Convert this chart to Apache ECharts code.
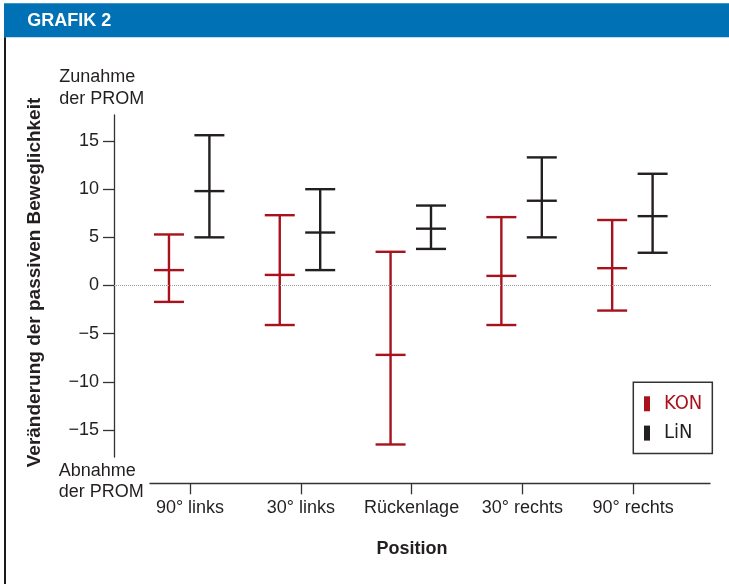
<!DOCTYPE html>
<html>
<head>
<meta charset="utf-8">
<title>Grafik 2</title>
<script src="https://cdn.jsdelivr.net/npm/echarts@6/dist/echarts.min.js"></script>
<style>
  html, body {
    margin: 0;
    padding: 0;
    background: #fff;
  }
  #chart {
    width: 729px;
    height: 584px;
  }
</style>
</head>
<body>
<div id="chart"></div>
<script>
// Kategorien (Position)
var categories = ['90° links', '30° links', 'Rückenlage', '30° rechts', '90° rechts']
// KON: Mittelwert, untere und obere Grenze
var konMean = [1.6, 1.1, -7.2, 1.0, 1.8]
var konLow = [-1.7, -4.1, -16.5, -4.1, -2.6]
var konHigh = [5.3, 7.3, 3.5, 7.1, 6.8]
// LiN
var linMean = [9.8, 5.5, 5.9, 8.8, 7.2]
var linLow = [5.0, 1.6, 3.8, 5.0, 3.4]
var linHigh = [15.6, 10.0, 8.3, 13.3, 11.6]
// Achsenbeschriftung
var yTicks = [-15, -10, -5, 0, 5, 10, 15]

var RED = '#a8121c'
var DARK = '#231f20'
var FONT = '"Liberation Sans", Arial, sans-serif'

function buildData(low, mean, high) {
  var arr = []
  for (let i = 0; i < categories.length; i++) {
    arr.push([i, low[i], mean[i], high[i]])
  }
  return arr
}

// Fehlerbalken zeichnen: senkrechte Linie + drei Querstriche
function errorBar(shift, color) {
  return function(params, api) {
    var x = api.value(0) + shift
    var pLow = api.coord([x, api.value(1)])
    var pMean = api.coord([x, api.value(2)])
    var pHigh = api.coord([x, api.value(3)])
    var half = 15
    var style = { stroke: color, lineWidth: 2.4 }
    var cap = function(p) {
      return {
        type: 'line',
        shape: { x1: p[0] - half, y1: p[1], x2: p[0] + half, y2: p[1] },
        style: style,
      }
    }
    return {
      type: 'group',
      children: [
        {
          type: 'line',
          shape: { x1: pHigh[0], y1: pHigh[1], x2: pLow[0], y2: pLow[1] },
          style: style,
        },
        cap(pHigh),
        cap(pMean),
        cap(pLow),
      ],
    }
  }
}

var chart = echarts.init(document.getElementById('chart'))

var option = {
  backgroundColor: '#fff',
  animation: false,
  textStyle: { fontFamily: FONT },
  grid: [
    // Datenbereich mit y-Achse
    { left: 114, right: 18, top: 115, bottom: 127 },
    // nur fuer die abgesetzte x-Achse
    { left: 150, right: 19, top: 300, bottom: 100.7 },
  ],
  xAxis: [
    {
      gridIndex: 0,
      type: 'value',
      min: -0.686,
      max: 4.702,
      show: false,
    },
    {
      gridIndex: 1,
      type: 'value',
      min: -0.361,
      max: 4.693,
      splitLine: { show: false },
      axisLine: { onZero: false, lineStyle: { color: '#333', width: 1.3 } },
      axisTick: {
        length: 11,
        customValues: [0, 1, 2, 3, 4],
        lineStyle: { color: '#333', width: 1.3 },
      },
      axisLabel: {
        customValues: [0, 1, 2, 3, 4],
        margin: 16,
        fontSize: 18,
        color: DARK,
        fontFamily: FONT,
        formatter: function(v) {
          return categories[Math.round(v)]
        },
      },
    },
  ],
  yAxis: [
    {
      gridIndex: 0,
      type: 'value',
      min: -17.8,
      max: 17.7,
      splitLine: { show: false },
      axisLine: { show: true, onZero: false, lineStyle: { color: '#333', width: 1.3 } },
      axisTick: {
        show: true,
        length: 11,
        customValues: yTicks,
        lineStyle: { color: '#333', width: 1.3 },
      },
      axisLabel: {
        customValues: yTicks,
        margin: 15,
        fontSize: 18,
        color: DARK,
        fontFamily: FONT,
        formatter: function(v) {
          return String(v).replace('-', '\u2212')
        },
      },
    },
    {
      gridIndex: 1,
      type: 'value',
      show: false,
    },
  ],
  legend: {
    orient: 'vertical',
    left: 633.3,
    top: 382.3,
    width: 77,
    padding: [11.5, 10, 10.5, 10.7],
    itemGap: 9.3,
    itemWidth: 6,
    itemHeight: 15,
    icon: 'rect',
    borderColor: '#333',
    borderWidth: 1.5,
    textStyle: {
      fontSize: 20,
      fontFamily: '"Liberation Sans Narrow", "DejaVu Sans Condensed", sans-serif',
      padding: [0, 0, 0, 9],
    },
    data: [
      { name: 'KON', textStyle: { color: RED }, itemStyle: { color: RED } },
      { name: 'LiN', textStyle: { color: DARK }, itemStyle: { color: DARK } },
    ],
  },
  graphic: [
    // Kopfzeile
    {
      type: 'rect',
      shape: { x: 4, y: 3.3, width: 725, height: 34 },
      style: { fill: '#0071b4' },
    },
    {
      type: 'text',
      x: 27.3,
      y: 20.8,
      style: {
        text: 'GRAFIK 2',
        fill: '#fff',
        font: 'bold 18px ' + FONT,
        verticalAlign: 'middle',
      },
    },
    // linker Rahmen
    {
      type: 'rect',
      shape: { x: 4, y: 37.3, width: 2, height: 550 },
      style: { fill: '#1a1a1a' },
    },
    {
      type: 'text',
      x: 59.3,
      y: 65.8,
      style: {
        text: 'Zunahme\nder PROM',
        fill: DARK,
        font: '18px ' + FONT,
        lineHeight: 22,
        verticalAlign: 'top',
      },
    },
    {
      type: 'text',
      x: 58.7,
      y: 460.3,
      style: {
        text: 'Abnahme\nder PROM',
        fill: DARK,
        font: '18px ' + FONT,
        lineHeight: 21,
        verticalAlign: 'top',
      },
    },
    {
      type: 'text',
      x: 35,
      y: 282.5,
      rotation: Math.PI / 2,
      style: {
        text: 'Veränderung der passiven Beweglichkeit',
        fill: DARK,
        font: 'bold 19px ' + FONT,
        align: 'center',
        verticalAlign: 'middle',
      },
    },
    {
      type: 'text',
      x: 412,
      y: 549.5,
      style: {
        text: 'Position',
        fill: DARK,
        font: 'bold 18px ' + FONT,
        align: 'center',
        verticalAlign: 'middle',
      },
    },
  ],
  series: [
    {
      name: 'KON',
      type: 'custom',
      xAxisIndex: 0,
      yAxisIndex: 0,
      clip: false,
      itemStyle: { color: RED },
      renderItem: errorBar(-0.19, RED),
      encode: { x: 0, y: [1, 2, 3] },
      data: buildData(konLow, konMean, konHigh),
      markLine: {
        silent: true,
        symbol: 'none',
        label: { show: false },
        lineStyle: { color: '#9a9a9a', type: 'dotted', width: 1 },
        data: [{ yAxis: 0 }],
      },
    },
    {
      name: 'LiN',
      type: 'custom',
      xAxisIndex: 0,
      yAxisIndex: 0,
      clip: false,
      itemStyle: { color: DARK },
      renderItem: errorBar(0.175, DARK),
      encode: { x: 0, y: [1, 2, 3] },
      data: buildData(linLow, linMean, linHigh),
    },
  ],
}

chart.setOption(option)
</script>
</body>
</html>
